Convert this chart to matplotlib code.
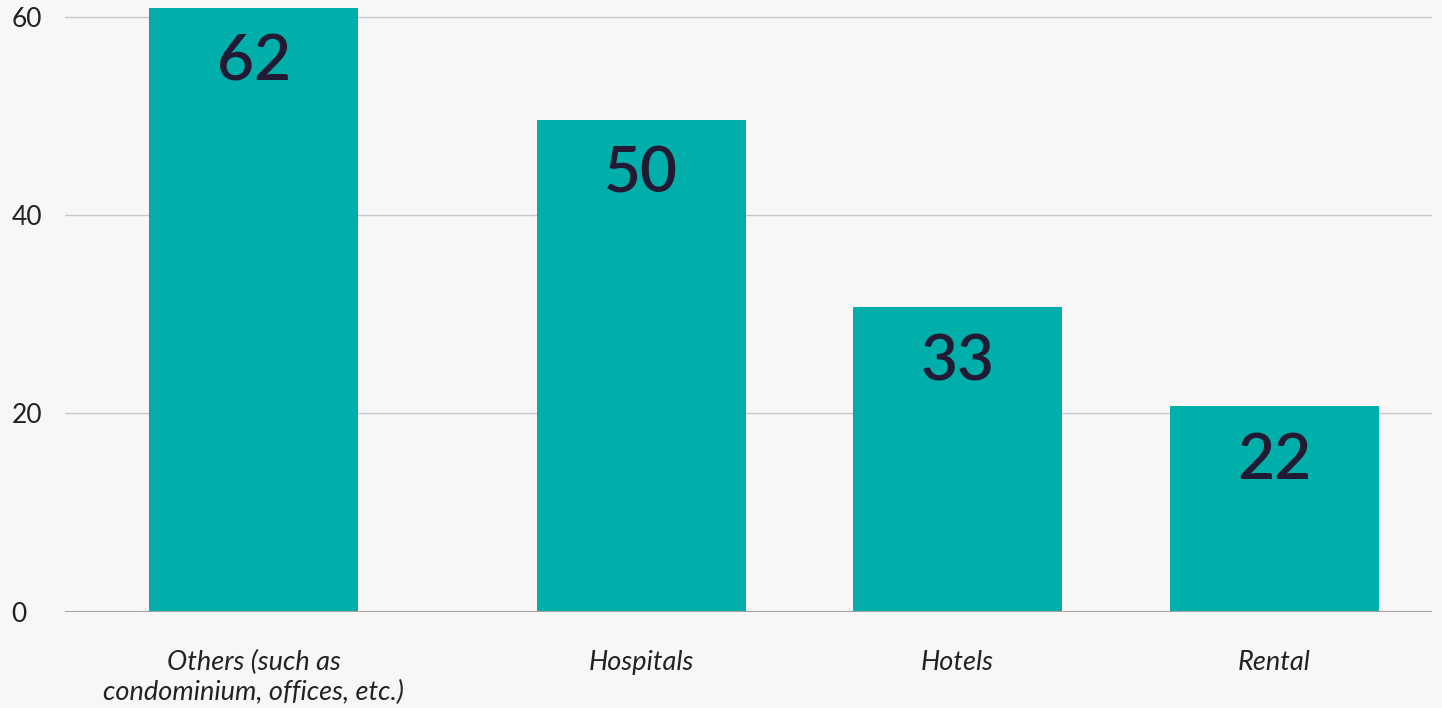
import numpy as np
import matplotlib.pyplot as plt

plt.rcParams['font.family'] = ['Lato', 'DejaVu Sans']

# Data
categories = ["Others (such as\ncondominium, offices, etc.)", "Hospitals", "Hotels", "Rental"]
bar_heights = [62, 49.6, 30.7, 20.7]   # drawn heights (first bar is clipped at the top)
value_labels = ["62", "50", "33", "22"]
x_pos = [0, 1.225, 2.225, 3.225]
y_ticks = [0, 20, 40, 60]

bg = '#f8f7f5'
teal = '#00afaa'
navy = '#221a35'
ytop = 60.9

fig = plt.figure(figsize=(14.42, 7.08), dpi=100, facecolor=bg)
ax = fig.add_axes([65/1442, 96.5/708, (1432-65)/1442, (611.5-8)/708])
ax.set_facecolor(bg)

ax.bar(x_pos, bar_heights, width=0.66, color=teal, zorder=2)

# value labels sit inside the bar, just under its top
for x, h, lab in zip(x_pos, bar_heights, value_labels):
    ax.annotate(lab, (x, min(h, ytop)), xytext=(0, -39.5), textcoords='offset points',
                ha='center', va='center', fontsize=46, fontweight='semibold',
                color=navy, annotation_clip=False, zorder=3)

ax.set_xlim(-0.596, 3.724)
ax.set_ylim(0, ytop)
ax.set_yticks(y_ticks)
ax.set_xticks(x_pos)
ax.set_xticklabels(categories, fontsize=19.5, style='italic', color='#222222', linespacing=1.25)
ax.set_yticklabels([str(v) for v in y_ticks], fontsize=19, color='#222222')
for t in ax.get_yticklabels():
    t.set_ha('left')
ax.tick_params(axis='y', length=0, pad=38.5)
ax.tick_params(axis='x', length=0, pad=27.5)

ax.grid(axis='y', color='#c9c9c9', linewidth=1.0, zorder=1)
ax.axhline(0, color='#a3a3a3', linewidth=1.5, zorder=2.5)
for s in ax.spines.values():
    s.set_visible(False)

fig.savefig('out.png', dpi=100, facecolor=bg)
